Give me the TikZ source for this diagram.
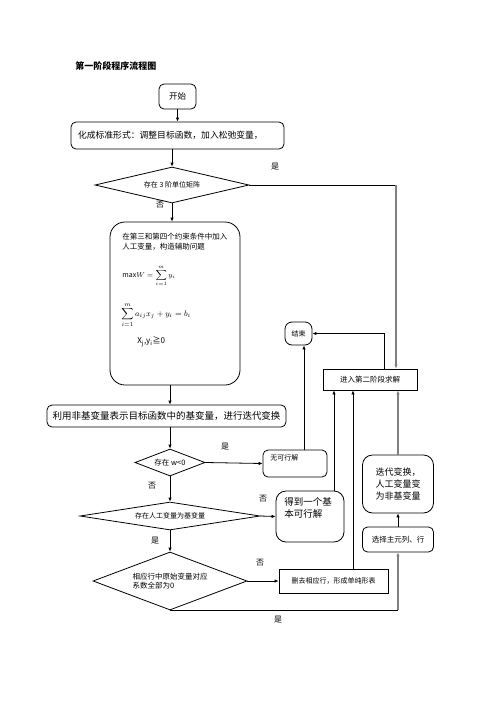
\documentclass[tikz,border=0pt]{standalone}
\usepackage{fontspec}
\setmainfont{Noto Sans CJK SC}
\usepackage{amsmath}
\usetikzlibrary{shapes.geometric}
\usetikzlibrary{arrows.meta}

\begin{document}
\begin{tikzpicture}[x=1pt,y=-1pt,line width=0.8pt,
    box/.style={draw,rounded corners=5pt,inner sep=0pt,font=\fontsize{7}{9}\selectfont},
    sqbox/.style={draw,inner sep=0pt,font=\fontsize{7}{9}\selectfont},
    choice/.style={draw,diamond,inner sep=0pt,font=\fontsize{7}{9}\selectfont},
    txt/.style={inner sep=0pt,font=\fontsize{7}{9}\selectfont},
    lab/.style={inner sep=0pt,font=\fontsize{8}{9}\selectfont},
    arr/.style={-{Latex[length=4pt,width=3.5pt]}},
    grayline/.style={draw=gray,line width=1.6pt}]
            \useasboundingbox (0,0) rectangle (496,702);
            \node[txt,anchor=west,font=\fontsize{9}{10}\selectfont\bfseries] (title) at (75,66) {第一阶段程序流程图};
            \node[box,minimum width=37,minimum height=25,font=\fontsize{8.5}{10}\selectfont] (start) at (177.5,96.5) {开始};
            \node[box,minimum width=213,minimum height=27,text width=199,align=left,font=\fontsize{8.8}{10}\selectfont] (std) at (177.5,135.5) {化成标准形式：调整目标函数，加入松弛变量，};
            \node[choice,aspect=4.3,minimum width=154,minimum height=36] (d1) at (172,185) {存在 3 阶单位矩阵};
            % auxiliary problem
            \node[box,rounded corners=15pt,minimum width=130,minimum height=163] (aux) at (175,303.5) {};
            \node[txt,anchor=north west,align=left,font=\fontsize{7.5}{9.5}\selectfont] (auxtext) at (122,233) {在第三和第四个约束条件中加入\\人工变量，构造辅助问题};
            \node[txt,anchor=west] (objfun) at (122,276) {$\displaystyle \mathrm{max}W=\sum_{i=1}^{m}y_i$};
            \node[txt,anchor=west,font=\fontsize{8}{9}\selectfont] (constr) at (121,315) {$\displaystyle \sum_{i=1}^{m}a_{ij}x_j+y_i=b_i$};
            \node[txt,anchor=west,font=\fontsize{8}{9}\selectfont] (nonneg) at (137,342) {X\textsubscript{j},y\textsubscript{i}≧0};
            \node[box,minimum width=239,minimum height=22,font=\fontsize{9.5}{10}\selectfont] (iter) at (166.5,416) {利用非基变量表示目标函数中的基变量，进行迭代变换};
            \node[choice,aspect=2.6,minimum width=70,minimum height=27,font=\fontsize{7.5}{9}\selectfont] (d2) at (170,462.5) {存在 w<0};
            \node[box,minimum width=64,minimum height=27] (nosol) at (295,463.5) {};
            \node[txt,anchor=west] (nosoltext) at (270,458) {无可行解};
            \node[choice,aspect=6.4,minimum width=180,minimum height=28] (d3) at (170,516) {存在人工变量为基变量};
            \node[box,rounded corners=10pt,minimum width=68,minimum height=51] (basic) at (310,516.5) {};
            \node[txt,anchor=north west,align=left,font=\fontsize{9.5}{12}\selectfont] (basictext) at (284,497) {得到一个基\\本可行解};
            \node[choice,aspect=2.65,minimum width=154,minimum height=58,align=left,font=\fontsize{7.5}{9.5}\selectfont] (d4) at (170,581) {相应行中原始变量对应\\系数全部为0};
            \node[sqbox,minimum width=109,minimum height=24] (del) at (333.5,581) {删去相应行，形成单纯形表};
            % right column
            \node[sqbox,minimum width=94,minimum height=21,font=\fontsize{7.5}{9}\selectfont] (phase2) at (370,379.5) {进入第二阶段求解};
            \node[box,rounded corners=7pt,minimum width=27,minimum height=23] (end) at (298.5,333.5) {结束};
            \node[box,rounded corners=10pt,minimum width=71,minimum height=58,align=left,font=\fontsize{9}{12}\selectfont] (pivotiter) at (398,484) {迭代变换，\\人工变量变\\为非基变量};
            \node[box,minimum width=71,minimum height=25,font=\fontsize{7.5}{9}\selectfont] (pivot) at (398,539.5) {选择主元列、行};
            % yes / no
            \node[lab] (yes1) at (275,167) {是};
            \node[lab] (no1) at (160,205) {否};
            \node[lab] (yes2) at (225,447) {是};
            \node[lab] (no2) at (152,486) {否};
            \node[lab] (no3) at (263,499) {否};
            \node[lab] (yes3) at (155,541) {是};
            \node[lab] (no4) at (260,563) {否};
            \node[lab] (yes4) at (278,620) {是};
            % connectors
            \coordinate (c1) at (396,185);
            \coordinate (delup) at (353,0);
            \coordinate (basicup) at (334,0);
            \coordinate (nosolup) at (304,0);
            \coordinate (phase2up) at (384,0);
            \draw[arr] (start) -- (std);
            \draw[arr] (d1.north |- std.south) -- (d1.north);
            \draw (d1.east) -- (c1);
            \draw[arr,grayline] (c1) -- (c1 |- phase2.north);
            \draw[arr] (d1.south) -- (d1.south |- aux.north);
            \draw[arr] (d2.north |- aux.south) -- (d2.north |- iter.north);
            \draw[arr] (d2.north |- iter.south) -- (d2.north);
            \draw[arr] (d2.east) -- (nosol.west);
            \draw[arr] (d2.south) -- (d3.north);
            \draw[arr] (d3.east) -- (basic.west);
            \draw[arr] (d3.south) -- (d4.north);
            \draw[arr] (d4.east) -- (del.west);
            \draw (d4.south) -- (d4.south -| pivot.south);
            \draw[arr,grayline] (d4.south -| pivot.south) -- (pivot.south);
            \draw[arr] (pivot) -- (pivotiter);
            \draw[arr,grayline] (pivotiter.north) -- (pivotiter.north |- phase2.south);
            \draw[arr] (delup |- del.north) -- (delup |- phase2.south);
            \draw[arr] (basicup |- basic.north) -- (basicup |- phase2.south);
            \draw[arr] (nosolup |- nosol.north) -- (nosolup |- end.south);
            \draw[arr] (phase2up |- phase2.north) |- (end.east);
        \end{tikzpicture}
\end{document}
